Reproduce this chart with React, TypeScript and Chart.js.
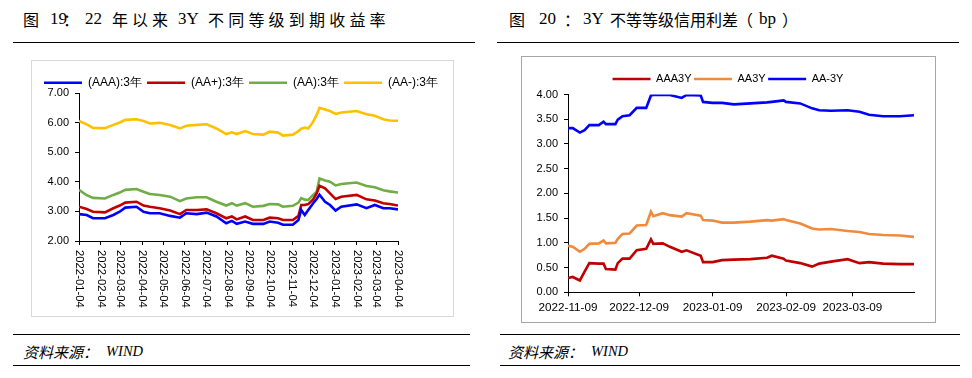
import React, { useEffect, useRef } from "react";
import { Chart, registerables } from "chart.js";

Chart.register(...registerables);

// ---------- Left chart data (图19) ----------
const leftBase = "2022-01-04";
const leftDates = ["2022-01-04","2022-01-15","2022-01-24","2022-02-10","2022-02-22","2022-03-03","2022-03-11","2022-03-27","2022-04-06","2022-04-15","2022-04-29","2022-05-14","2022-05-28","2022-06-06","2022-06-21","2022-07-05","2022-07-19","2022-08-02","2022-08-10","2022-08-17","2022-08-29","2022-09-09","2022-09-24","2022-10-03","2022-10-15","2022-10-22","2022-11-05","2022-11-13","2022-11-17","2022-11-22","2022-11-27","2022-12-04","2022-12-09","2022-12-13","2022-12-21","2022-12-28","2023-01-05","2023-01-13","2023-02-04","2023-02-18","2023-03-02","2023-03-14","2023-03-23","2023-04-04"];
const leftAAA = [2.91,2.88,2.77,2.77,2.88,2.99,3.13,3.16,2.99,2.94,2.94,2.85,2.79,2.94,2.91,2.96,2.83,2.60,2.68,2.58,2.66,2.58,2.58,2.66,2.62,2.55,2.55,2.71,3.05,2.88,3.05,3.28,3.42,3.57,3.33,3.22,3.03,3.16,3.24,3.11,3.22,3.11,3.11,3.07];
const leftAAplus = [3.16,3.08,2.99,2.97,3.11,3.20,3.30,3.33,3.20,3.16,3.11,3.03,2.91,3.05,3.05,3.07,2.94,2.77,2.83,2.73,2.83,2.71,2.71,2.79,2.77,2.71,2.71,2.85,3.22,3.22,3.25,3.41,3.61,3.87,3.78,3.61,3.42,3.50,3.56,3.41,3.37,3.28,3.25,3.20];
const leftAA = [3.73,3.55,3.46,3.44,3.56,3.64,3.73,3.76,3.67,3.59,3.56,3.50,3.35,3.44,3.48,3.48,3.33,3.20,3.28,3.20,3.28,3.16,3.19,3.25,3.24,3.16,3.19,3.30,3.45,3.40,3.39,3.56,3.67,4.12,4.05,4.01,3.88,3.93,3.98,3.86,3.82,3.72,3.68,3.64];
const leftAAminus = [6.06,5.95,5.83,5.82,5.93,6.01,6.10,6.12,6.06,5.98,6.00,5.93,5.81,5.90,5.93,5.95,5.81,5.62,5.68,5.62,5.72,5.62,5.60,5.70,5.67,5.57,5.60,5.72,5.80,5.84,5.81,6.04,6.27,6.51,6.45,6.40,6.30,6.35,6.40,6.29,6.24,6.12,6.08,6.07];
const leftSeriesNames = ["(AAA):3年", "(AA+):3年", "(AA):3年", "(AA-):3年"];
const leftTickDates = ["2022-01-04","2022-02-04","2022-03-04","2022-04-04","2022-05-04","2022-06-04","2022-07-04","2022-08-04","2022-09-04","2022-10-04","2022-11-04","2022-12-04","2023-01-04","2023-02-04","2023-03-04","2023-04-04"];
const leftYTicks = [2, 3, 4, 5, 6, 7];

// ---------- Right chart data (图20) ----------
const rightBase = "2022-11-09";
const rightEnd = "2023-04-04";
const rightDates = ["2022-11-09","2022-11-11","2022-11-14","2022-11-16","2022-11-18","2022-11-22","2022-11-24","2022-11-25","2022-11-29","2022-11-30","2022-12-02","2022-12-05","2022-12-08","2022-12-12","2022-12-14","2022-12-15","2022-12-19","2022-12-22","2022-12-27","2022-12-29","2023-01-04","2023-01-05","2023-01-09","2023-01-13","2023-01-18","2023-01-25","2023-02-01","2023-02-03","2023-02-08","2023-02-09","2023-02-15","2023-02-20","2023-02-23","2023-02-28","2023-03-07","2023-03-12","2023-03-16","2023-03-22","2023-03-29","2023-04-04"];
const rightAAA3Y = [0.29,0.31,0.24,0.42,0.59,0.58,0.58,0.47,0.46,0.59,0.68,0.68,0.85,0.88,1.07,0.98,0.99,0.92,0.82,0.85,0.74,0.61,0.61,0.65,0.66,0.67,0.70,0.74,0.68,0.64,0.59,0.52,0.58,0.62,0.67,0.59,0.61,0.58,0.57,0.57];
const rightAA3Y = [0.94,0.92,0.82,0.88,0.98,0.99,1.05,0.99,1.00,1.08,1.18,1.19,1.35,1.36,1.63,1.54,1.60,1.56,1.53,1.60,1.55,1.46,1.45,1.41,1.41,1.43,1.46,1.45,1.48,1.46,1.39,1.29,1.27,1.28,1.24,1.22,1.18,1.16,1.15,1.12];
const rightAAminus3Y = [3.32,3.32,3.23,3.28,3.38,3.38,3.45,3.40,3.40,3.49,3.56,3.58,3.73,3.73,3.98,3.99,3.99,3.99,3.93,3.99,3.98,3.85,3.83,3.83,3.80,3.82,3.84,3.85,3.88,3.85,3.82,3.72,3.68,3.67,3.68,3.65,3.59,3.56,3.56,3.58];
const rightSeriesNames = ["AAA3Y", "AA3Y", "AA-3Y"];
const rightTickDates = ["2022-11-09","2022-12-09","2023-01-09","2023-02-09","2023-03-09"];

const dayOf = (d: string, base: string) => Math.round((Date.parse(d) - Date.parse(base)) / 86400000);
const pts = (dates: string[], vals: number[], base: string) => dates.map((d, i) => ({ x: dayOf(d, base), y: vals[i] }));

const FONT = '"Liberation Sans", Arial, sans-serif';

const rotatedXLabels = {
  id: "rotatedXLabels",
  afterDraw(chart: any) {
    const s = chart.scales.x;
    const ctx = chart.ctx;
    ctx.save();
    ctx.font = `11.3px ${FONT}`;
    ctx.fillStyle = "#000";
    ctx.textAlign = "left";
    ctx.textBaseline = "middle";
    leftTickDates.forEach((d) => {
      const x = s.getPixelForValue(dayOf(d, leftBase));
      ctx.save();
      ctx.translate(x, s.top + 9);
      ctx.rotate(Math.PI / 2);
      ctx.fillText(d, 0, 0);
      ctx.restore();
    });
    ctx.restore();
  },
};

const axisLine = {
  grid: { drawOnChartArea: false, drawTicks: true, tickLength: 4, color: "#000" },
  border: { display: true, color: "#000", width: 1 },
};

// an empty right-side box that only reserves room to the right of the plot
const spacerAxis = (w: number) => ({
  type: "linear",
  position: "right",
  display: true,
  ticks: { display: false },
  grid: { display: false },
  border: { display: false },
  afterFit: (s: any) => { s.width = w; },
});

function LeftChart() {
  const ref = useRef<HTMLCanvasElement>(null);
  useEffect(() => {
    const colors = ["#0000FF", "#C00000", "#70AD47", "#FFC000"];
    const series = [leftAAA, leftAAplus, leftAA, leftAAminus];
    const chart = new Chart(ref.current!, {
      type: "line",
      data: {
        datasets: series.map((v, i) => ({
          label: leftSeriesNames[i],
          data: pts(leftDates, v, leftBase),
          yAxisID: "y",
          xAxisID: "x",
          borderColor: colors[i],
          backgroundColor: colors[i],
          borderWidth: 2.6,
          pointRadius: 0,
          tension: 0,
          fill: false,
        })),
      },
      options: {
        animation: false,
        responsive: false,
        devicePixelRatio: 1,
        layout: { padding: { left: 7, right: 0, top: 10.7, bottom: 14 } },
        plugins: {
          tooltip: { enabled: false },
          legend: {
            position: "top",
            align: "start",
            maxHeight: 21.6,
            labels: {
              usePointStyle: true,
              pointStyle: "line",
              pointStyleWidth: 38,
              padding: 5,
              color: "#000",
              font: { family: FONT, size: 12 },
            },
          },
        },
        scales: {
          x: {
            type: "linear",
            min: 0,
            max: dayOf(leftTickDates[leftTickDates.length - 1], leftBase),
            afterBuildTicks: (s: any) => {
              s.ticks = leftTickDates.map((d) => ({ value: dayOf(d, leftBase) }));
            },
            afterFit: (s: any) => { s.height = 60; },
            ticks: { display: false },
            ...axisLine,
          },
          y: {
            type: "linear",
            position: "left",
            min: 2,
            max: 7,
            afterBuildTicks: (s: any) => { s.ticks = leftYTicks.map((v) => ({ value: v })); },
            afterFit: (s: any) => { s.width = 40; },
            ticks: { color: "#000", padding: 6, font: { family: FONT, size: 11 }, callback: (v: any) => Number(v).toFixed(2) },
            ...axisLine,
          },
          yR: spacerAxis(54),
        },
      },
      plugins: [rotatedXLabels],
    } as any);
    return () => chart.destroy();
  }, []);
  return <canvas ref={ref} width={420} height={254} style={{ position: "absolute", left: 32, top: 61, width: 420, height: 254 }} />;
}

function RightChart() {
  const ref = useRef<HTMLCanvasElement>(null);
  useEffect(() => {
    const colors = ["#C00000", "#F08A3C", "#0000FF"];
    const series = [rightAAA3Y, rightAA3Y, rightAAminus3Y];
    const chart = new Chart(ref.current!, {
      type: "line",
      data: {
        datasets: series.map((v, i) => ({
          label: rightSeriesNames[i],
          data: pts(rightDates, v, rightBase),
          yAxisID: "y",
          xAxisID: "x",
          borderColor: colors[i],
          backgroundColor: colors[i],
          borderWidth: 2.6,
          pointRadius: 0,
          tension: 0,
          fill: false,
        })),
      },
      options: {
        animation: false,
        responsive: false,
        devicePixelRatio: 1,
        layout: { padding: { left: 0, right: 0, top: 14, bottom: 7 } },
        plugins: {
          tooltip: { enabled: false },
          legend: {
            position: "top",
            align: "center",
            labels: {
              usePointStyle: true,
              pointStyle: "line",
              pointStyleWidth: 38,
              padding: 2.5,
              color: "#000",
              font: { family: FONT, size: 11 },
            },
          },
        },
        scales: {
          x: {
            type: "linear",
            min: 0,
            max: dayOf(rightEnd, rightBase),
            afterBuildTicks: (s: any) => {
              s.ticks = rightTickDates.map((d) => ({ value: dayOf(d, rightBase) }));
            },
            afterFit: (s: any) => { s.height = 21.7; },
            ticks: {
              color: "#000",
              padding: 4,
              maxRotation: 0,
              minRotation: 0,
              autoSkip: false,
              font: { family: FONT, size: 11.7 },
              callback: (v: any) => {
                const d = rightTickDates.find((t) => dayOf(t, rightBase) === Number(v));
                return d || "";
              },
            },
            ...axisLine,
          },
          y: {
            type: "linear",
            position: "left",
            min: 0,
            max: 4,
            ticks: { stepSize: 0.5, color: "#000", padding: 6, font: { family: FONT, size: 11 }, callback: (v: any) => Number(v).toFixed(2) },
            afterFit: (s: any) => { s.width = 46; },
            ...axisLine,
          },
          yR: spacerAxis(20),
        },
      },
    } as any);
    return () => chart.destroy();
  }, []);
  return <canvas ref={ref} width={412} height={264} style={{ position: "absolute", left: 522, top: 57, width: 412, height: 264 }} />;
}

const CJK = '"Noto Sans CJK SC", sans-serif';
const SERIF = '"Liberation Serif", serif';

function Txt(props: { x: number; y: number; t: string; size?: number; fam?: string; ls?: number; italic?: boolean }) {
  const size = props.size ?? 16;
  return (
    <span
      style={{
        position: "absolute",
        left: props.x,
        top: props.y,
        fontSize: size,
        lineHeight: `${size}px`,
        fontFamily: props.fam ?? CJK,
        letterSpacing: props.ls ?? 0,
        fontStyle: props.italic ? "italic" : "normal",
        color: "#000",
        whiteSpace: "nowrap",
      }}
    >
      {props.t}
    </span>
  );
}

function Rule(props: { x1: number; x2: number; y: number }) {
  return <div style={{ position: "absolute", left: props.x1, top: props.y, width: props.x2 - props.x1, height: 1, background: "#000" }} />;
}

export default function App() {
  return (
    <div style={{ position: "absolute", left: 0, top: 0, width: 972, height: 378, background: "#fff", overflow: "hidden" }}>
      {/* Left title */}
      <Txt x={23} y={11} t="图" />
      <Txt x={50} y={10} t="19" size={17} fam={SERIF} />
      <Txt x={63} y={11} t="：" />
      <Txt x={85} y={10} t="22" size={17} fam={SERIF} />
      <Txt x={112} y={11} t="年以来" ls={4} />
      <Txt x={178} y={10} t="3Y" size={17} fam={SERIF} />
      <Txt x={208} y={11} t="不同等级到期收益率" ls={4.2} />
      <Rule x1={13} x2={475} y={42} />

      {/* Right title */}
      <Txt x={509} y={11} t="图" />
      <Txt x={539} y={10} t="20" size={17} fam={SERIF} />
      <Txt x={564} y={11} t="：" />
      <Txt x={583} y={10} t="3Y" size={17} fam={SERIF} />
      <Txt x={610} y={11} t="不等等级信用利差" />
      <Txt x={737} y={11} t="（" />
      <Txt x={759} y={10} t="bp" size={17} fam={SERIF} />
      <Txt x={782} y={11} t="）" />
      <Rule x1={497} x2={959} y={42} />

      {/* Frames */}
      <div style={{ position: "absolute", left: 31, top: 60, width: 423, height: 257, border: "1px solid #d9d9d9", boxSizing: "border-box" }} />
      <div style={{ position: "absolute", left: 521, top: 56, width: 415, height: 267, border: "1px solid #a6a6a6", boxSizing: "border-box" }} />

      <LeftChart />
      <RightChart />

      {/* Sources */}
      <Rule x1={13} x2={470} y={334} />
      <Txt x={23} y={344} t="资料来源：" size={15} italic />
      <Txt x={106} y={344} t="WIND" size={14.5} fam={SERIF} italic />
      <Rule x1={13} x2={470} y={365} />

      <Rule x1={500} x2={960} y={334} />
      <Txt x={508} y={344} t="资料来源：" size={15} italic />
      <Txt x={591} y={344} t="WIND" size={14.5} fam={SERIF} italic />
      <Rule x1={500} x2={960} y={365} />
    </div>
  );
}
